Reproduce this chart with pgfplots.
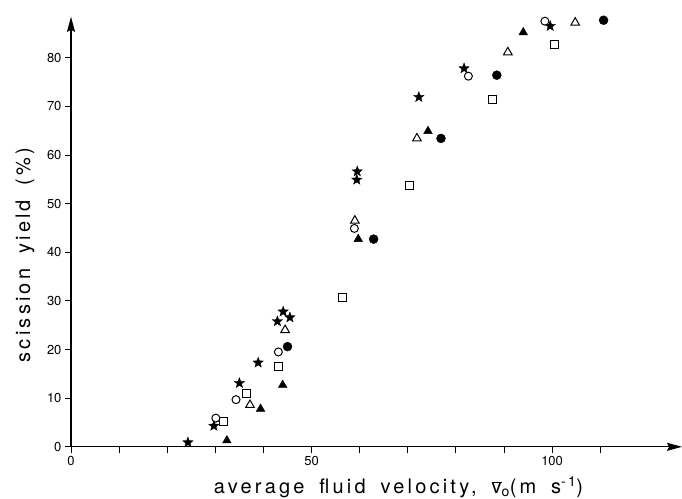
\documentclass[border=0pt]{standalone}
\usepackage{fontspec}
\setmainfont{TeX Gyre Heros}
\newfontfamily\labfont{TeX Gyre Heros}[LetterSpace=16,WordSpace=1.7]
\usepackage{pgfplots}
\pgfplotsset{compat=1.18}
\usetikzlibrary{arrows.meta}

\pgfdeclareplotmark{fstar}{%
  \pgfpathmoveto{\pgfpointpolar{90}{\pgfplotmarksize}}%
  \pgfpathlineto{\pgfpointpolar{126}{0.42\pgfplotmarksize}}%
  \pgfpathlineto{\pgfpointpolar{162}{\pgfplotmarksize}}%
  \pgfpathlineto{\pgfpointpolar{198}{0.42\pgfplotmarksize}}%
  \pgfpathlineto{\pgfpointpolar{234}{\pgfplotmarksize}}%
  \pgfpathlineto{\pgfpointpolar{270}{0.42\pgfplotmarksize}}%
  \pgfpathlineto{\pgfpointpolar{306}{\pgfplotmarksize}}%
  \pgfpathlineto{\pgfpointpolar{342}{0.42\pgfplotmarksize}}%
  \pgfpathlineto{\pgfpointpolar{18}{\pgfplotmarksize}}%
  \pgfpathlineto{\pgfpointpolar{54}{0.42\pgfplotmarksize}}%
  \pgfpathclose
  \pgfusepathqfillstroke}

\begin{document}
\begin{tikzpicture}
\begin{axis}[
  scale only axis,
  width=611pt, height=430pt,
  xmin=0, xmax=127, ymin=0, ymax=88.4,
  axis lines=left,
  axis line style={line width=1.1pt, -{Stealth[length=15pt,width=8pt,inset=2pt]}},
  tick align=outside,
  major tick length=6pt,
  tick style={line width=0.9pt, black},
  xtick={0,10,...,110},
  xticklabels={0,,,,,50,,,,,100,},
  ytick={0,10,...,80},
  minor tick num=0,
  /pgf/number format/assume math mode=true,
  tick label style={font=\fontsize{13}{15}\selectfont},
  label style={font=\labfont\fontsize{20}{23}\selectfont},
  xlabel={average fluid velocity, $\overline{\hbox{v}}$\textsubscript{o}(m s\textsuperscript{-1})},
  ylabel={scission yield (\%)},
  xlabel style={at={(axis description cs:0.536,-0.094)}, anchor=center},
  ylabel style={at={(axis description cs:-0.0753,0.4464)}, anchor=center, rotate=0},
  clip=false,
]
\addplot[only marks, mark=fstar, mark size=5.5pt, black, line width=0.3pt] coordinates {
(24.3,0.9) (29.7,4.3) (35.0,13.1) (38.9,17.3) (42.9,25.8) (44.1,27.8) (45.5,26.6)
(59.4,54.9) (59.5,56.6) (72.3,71.9) (81.7,77.8) (99.6,86.5)};
\addplot[only marks, mark=o, mark size=4pt, black, line width=1pt] coordinates {
(30.1,5.9) (34.3,9.7) (43.1,19.5) (58.9,44.9) (82.6,76.2) (98.5,87.5)};
\addplot[only marks, mark=square, mark size=4pt, black, line width=1pt] coordinates {
(31.7,5.3) (36.4,10.9) (43.1,16.5) (56.5,30.8) (70.3,53.8) (87.6,71.5) (100.4,82.8)};
\addplot[only marks, mark=triangle, mark size=5pt, black, line width=1pt] coordinates {
(37.2,8.6) (44.5,24.0) (59.0,46.5) (71.9,63.4) (90.8,81.1) (104.8,87.2)};
\addplot[only marks, mark=triangle*, mark size=5pt, black] coordinates {
(32.4,1.3) (39.4,7.8) (44.0,12.7) (59.7,42.7) (74.2,64.9) (94.0,85.2)};
\addplot[only marks, mark=*, mark size=4.5pt, black] coordinates {
(45.0,20.6) (62.9,42.7) (76.9,63.4) (88.5,76.4) (110.7,87.7)};
\coordinate (BL) at (axis cs:-14.76,-10.69);
\coordinate (TR) at (axis cs:127.0,91.86);
\end{axis}
\pgfresetboundingbox
\useasboundingbox (BL) rectangle (TR);
\end{tikzpicture}
\end{document}
